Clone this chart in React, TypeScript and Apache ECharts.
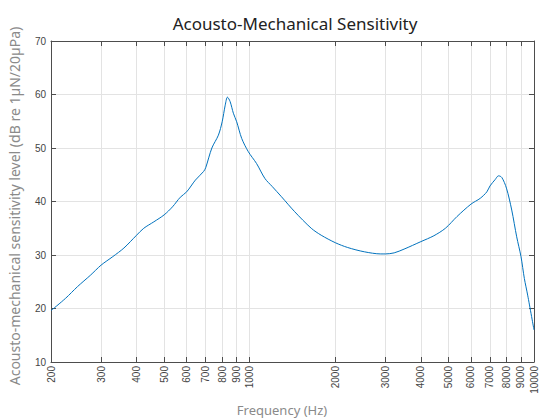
import React, { useEffect, useRef } from "react";
import * as echarts from "echarts";

const frequencies = [
  200, 225, 248, 275, 300, 330, 361, 400, 424, 460, 500, 535, 570, 600, 644, 688, 700, 736, 776, 800,
  820, 835, 853, 876, 900, 937, 989, 1057, 1131, 1200, 1293, 1439, 1646, 1784, 2000, 2211, 2530, 2891,
  3000, 3222, 3491, 4000, 4445, 4880, 5362, 6000, 6471, 6825, 7000, 7300, 7504, 7704, 8000, 8350, 8692,
  9000, 9249, 9500, 10000,
];
const levels = [
  19.6, 21.9, 24.1, 26.2, 28.1, 29.7, 31.3, 33.7, 35.0, 36.2, 37.5, 39.0, 40.8, 41.8, 44.0, 45.6, 46.3, 50.0,
  52.4, 54.9, 58.0, 59.5, 58.7, 56.5, 54.9, 51.8, 49.3, 47.1, 44.3, 42.8, 40.9, 38.1, 35.0, 33.7, 32.3, 31.4,
  30.6, 30.2, 30.2, 30.4, 31.1, 32.5, 33.6, 35.0, 37.2, 39.5, 40.6, 41.8, 42.9, 44.1, 44.8, 44.5, 42.5, 38.4,
  33.4, 29.7, 25.6, 22.5, 16.0,
];
const freqTicks = [200, 300, 400, 500, 600, 700, 800, 900, 1000, 2000, 3000, 4000, 5000, 6000, 7000, 8000, 9000, 10000];
const yTicks = [10, 20, 30, 40, 50, 60, 70];

const title = "Acousto-Mechanical Sensitivity";
const xTitle = "Frequency (Hz)";
const yTitle = "Acousto-mechanical sensitivity level (dB re 1µN/20µPa)";

export default function App() {
  const ref = useRef<HTMLDivElement>(null);
  useEffect(() => {
    if (!ref.current) return;
    const chart = echarts.init(ref.current, null, { renderer: "svg" });
    const logTicks = freqTicks.map((f) => Math.log10(f));
    const data = frequencies.map((f, i) => [Math.log10(f), levels[i]]);
    const axisColor = "#4d4d4d";
    const gridColor = "#e3e3e3";
    const tickFont = { color: "#444", fontSize: 10, fontFamily: "Liberation Sans" };
    const xBase = {
      type: "value" as const,
      min: Math.log10(200),
      max: 4,
      axisLine: { show: true, lineStyle: { color: axisColor, width: 1 } },
    };
    const yBase = {
      type: "value" as const,
      min: 10,
      max: 70,
      interval: 10,
      axisLine: { show: true, lineStyle: { color: axisColor, width: 1 } },
    };
    chart.setOption({
      animation: false,
      backgroundColor: "#fff",
      title: {
        text: title,
        left: 290,
        top: 10,
        textAlign: "center",
        textStyle: { fontFamily: "Noto Sans", fontSize: 17, fontWeight: "normal", color: "#222" },
      },
      grid: { left: 51, top: 41, width: 486, height: 321, containLabel: false },
      xAxis: [
        {
          ...xBase,
          position: "bottom",
          axisTick: { show: true, inside: true, length: 5, customValues: logTicks, lineStyle: { color: axisColor } },
          axisLabel: {
            show: true,
            customValues: logTicks,
            rotate: 90,
            margin: 4,
            ...tickFont,
            formatter: (v: number) => String(Math.round(Math.pow(10, v))),
          },
          splitLine: { show: true, lineStyle: { color: gridColor, width: 1 } },
        },
        {
          ...xBase,
          position: "top",
          axisTick: { show: true, inside: true, length: 5, customValues: logTicks, lineStyle: { color: axisColor } },
          axisLabel: { show: false },
          splitLine: { show: false },
        },
      ],
      yAxis: [
        {
          ...yBase,
          position: "left",
          axisTick: { show: true, inside: true, length: 5, lineStyle: { color: axisColor } },
          axisLabel: { show: true, margin: 5, ...tickFont, customValues: yTicks },
          splitLine: { show: true, lineStyle: { color: gridColor, width: 1 } },
        },
        {
          ...yBase,
          position: "right",
          axisTick: { show: true, inside: true, length: 5, lineStyle: { color: axisColor } },
          axisLabel: { show: false },
          splitLine: { show: false },
        },
      ],
      graphic: [
        {
          type: "text",
          x: 282,
          y: 410,
          style: {
            text: xTitle,
            fill: "#8a8a8a",
            fontSize: 13,
            fontFamily: "Noto Sans",
            textAlign: "center",
            textVerticalAlign: "middle",
          },
        },
        {
          type: "text",
          x: 14,
          y: 206,
          rotation: Math.PI / 2,
          style: {
            text: yTitle,
            fill: "#8a8a8a",
            fontSize: 14,
            fontFamily: "Noto Sans",
            textAlign: "center",
            textVerticalAlign: "middle",
          },
        },
      ],
      series: [
        {
          type: "line",
          data,
          xAxisIndex: 0,
          yAxisIndex: 0,
          smooth: 0.3,
          showSymbol: false,
          lineStyle: { color: "#0072BD", width: 1 },
          itemStyle: { color: "#0072BD" },
        },
      ],
    });
    return () => chart.dispose();
  }, []);
  return <div ref={ref} style={{ position: "fixed", left: 0, top: 0, width: 539, height: 419 }} />;
}
